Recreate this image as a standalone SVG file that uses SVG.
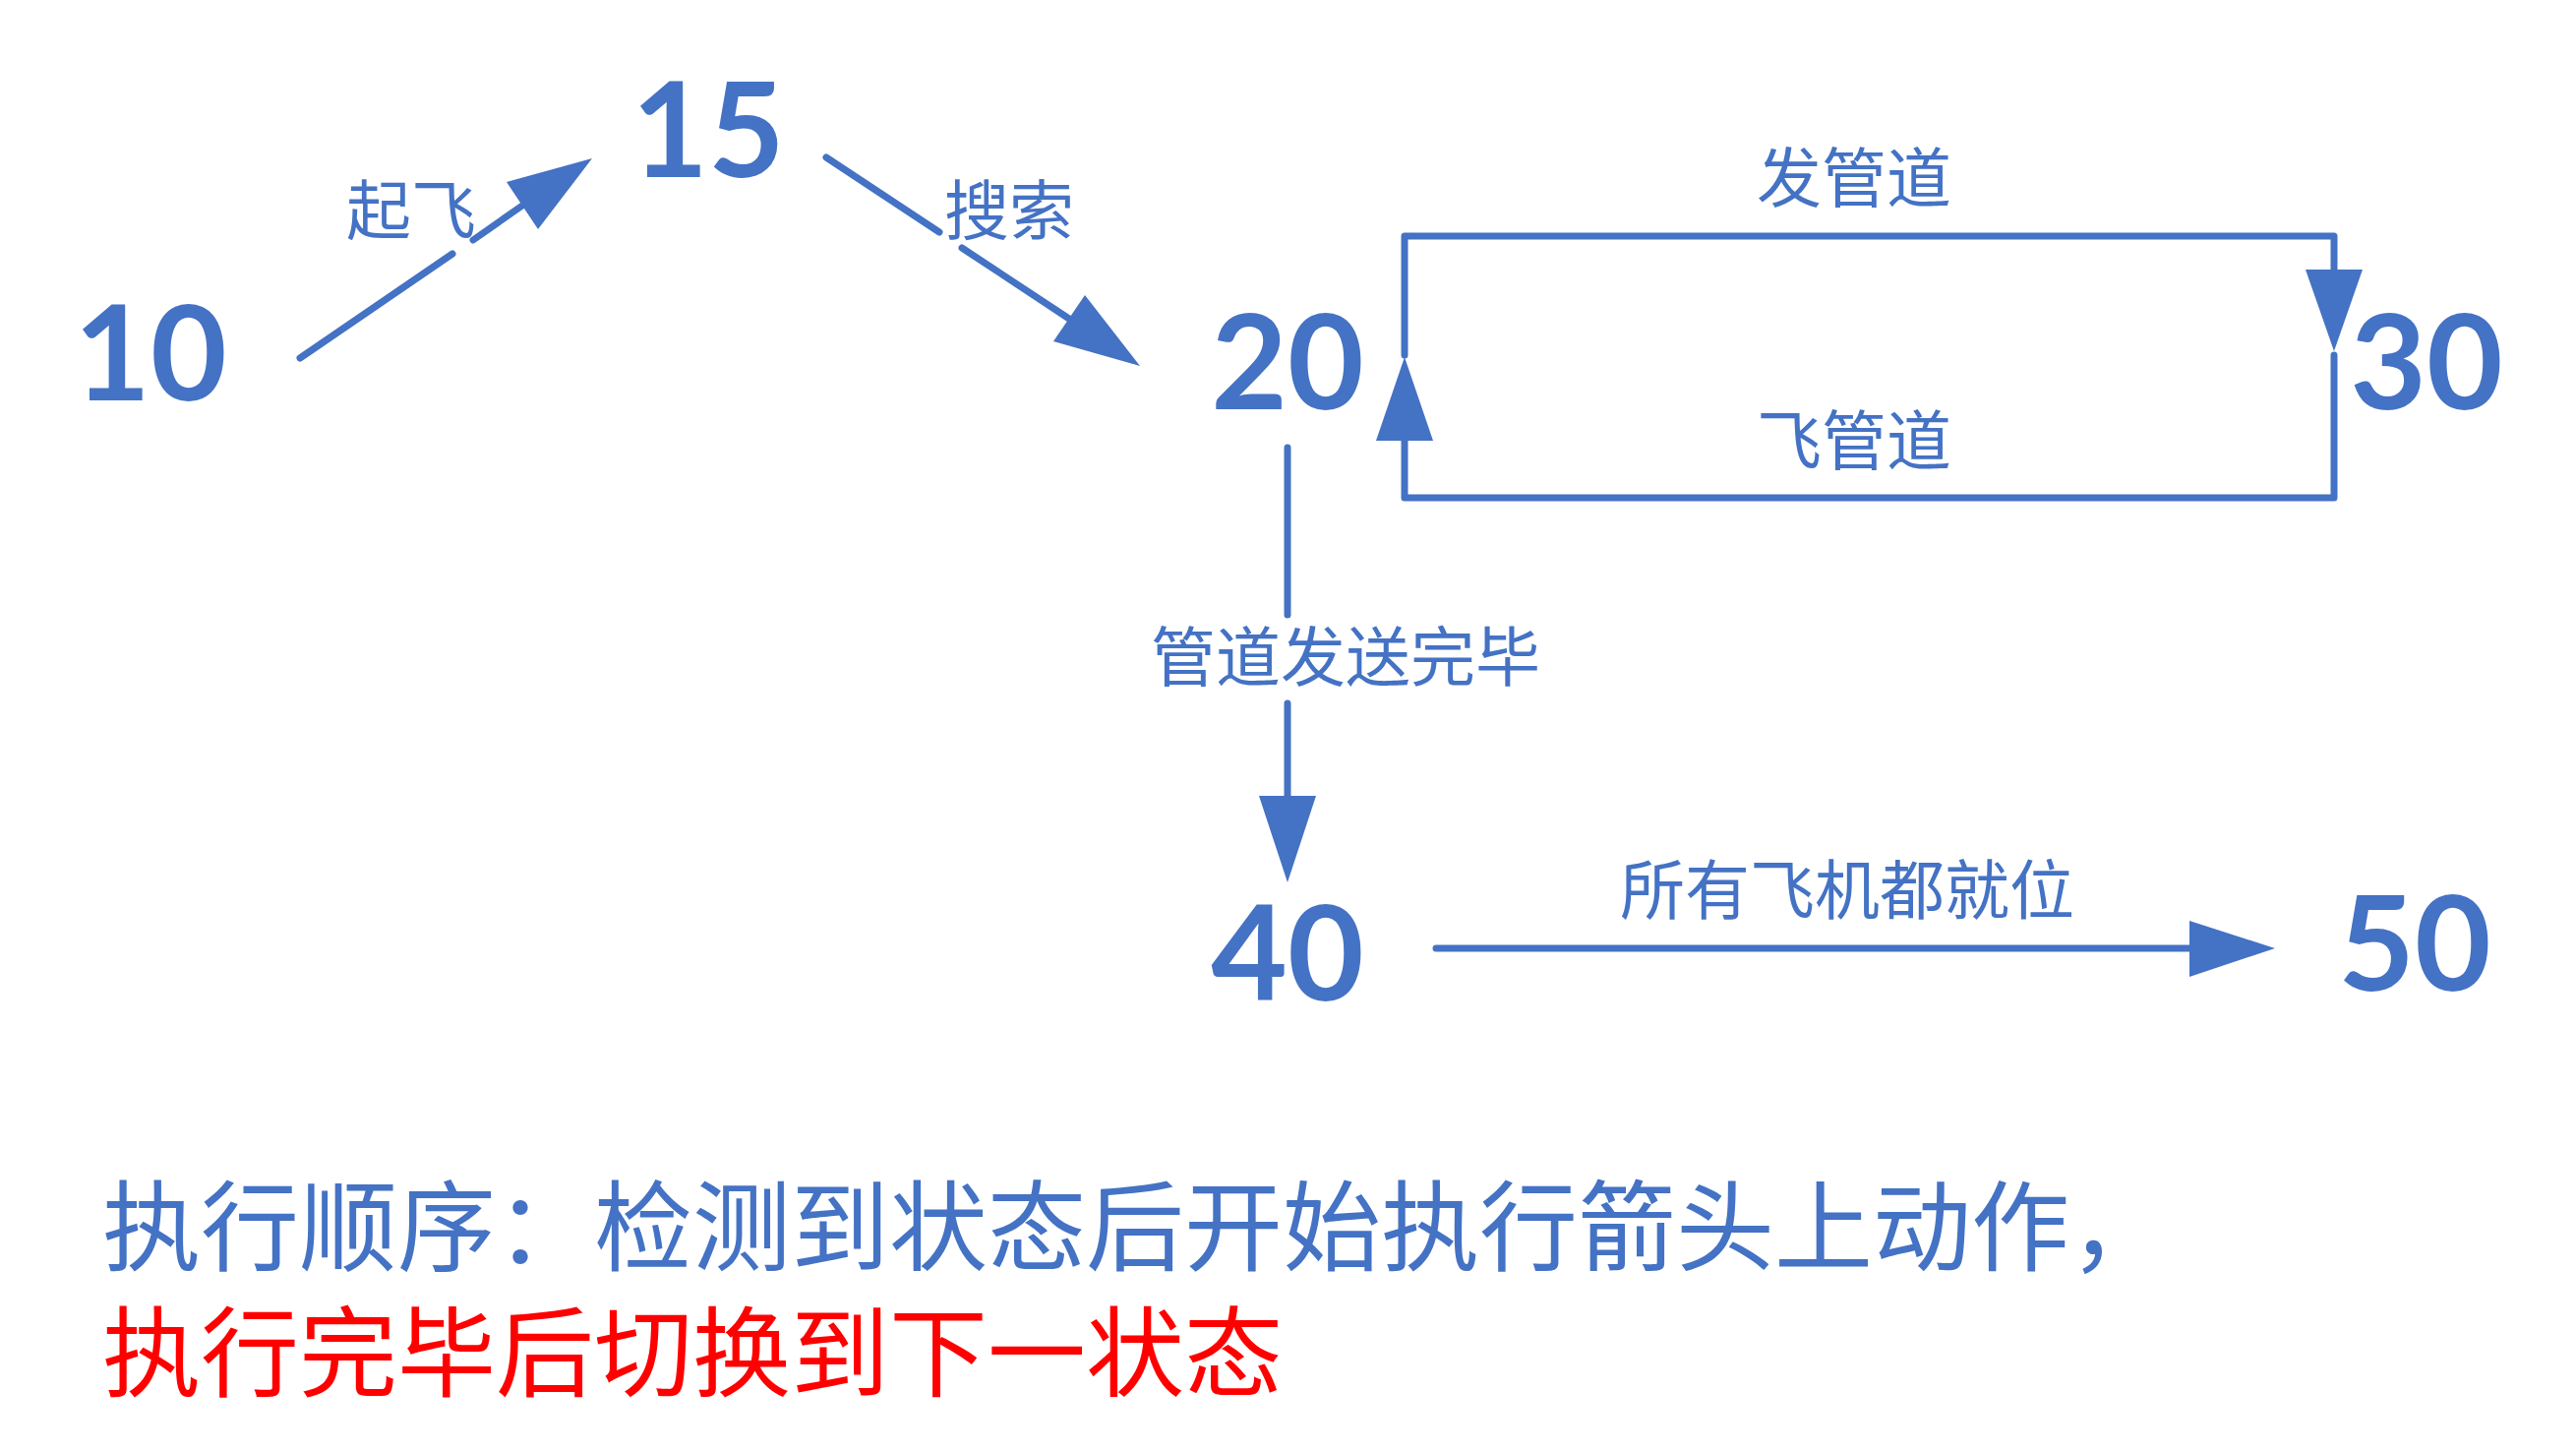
<svg xmlns="http://www.w3.org/2000/svg" width="2619" height="1475" viewBox="0 0 2619 1475">
<style>
.num{font-family:Lato,"Open Sans","Liberation Sans",sans-serif;font-weight:700;font-size:134px;fill:#4472C4;text-anchor:middle}
.lbl{font-family:"Noto Sans CJK SC","Noto Sans",sans-serif;font-size:66px;fill:#4472C4;text-anchor:middle}
.note{font-family:"Noto Sans CJK SC","Noto Sans",sans-serif;font-size:100px}
.ln{fill:none;stroke:#4472C4;stroke-width:7;stroke-linecap:round;stroke-linejoin:round}
.ah{fill:#4472C4;stroke:none}
</style>
<rect x="0" y="0" width="2619" height="1475" fill="#FFFFFF"/>
<g id="connectors">
  <!-- 10 -> 15 -->
  <path class="ln" d="M305,364 L460,258 M481,244 L531,209"/>
  <polygon class="ah" points="602,161 515,185 547,233"/>
  <!-- 15 -> 20 -->
  <path class="ln" d="M840,160 L955,236 M978,252 L1090,326"/>
  <polygon class="ah" points="1159,372 1071,347 1103,300"/>
  <!-- 20 -> 30 (发管道) -->
  <path class="ln" d="M1428,361 V240 H2373 V276"/>
  <polygon class="ah" points="2373,357 2344,274 2402,274"/>
  <!-- 30 -> 20 (飞管道) -->
  <path class="ln" d="M2373,361 V506 H1428 V446"/>
  <polygon class="ah" points="1428,363 1399,448 1457,448"/>
  <!-- 20 -> 40 -->
  <path class="ln" d="M1309,455 V625 M1309,715 V811"/>
  <polygon class="ah" points="1309,897 1280,809 1338,809"/>
  <!-- 40 -> 50 -->
  <path class="ln" d="M1460,964 H2228"/>
  <polygon class="ah" points="2313,964 2226,936 2226,993"/>
  <!-- labels -->
  <text class="lbl" x="418" y="238">起飞</text>
  <text class="lbl" x="1026" y="238">搜索</text>
  <text class="lbl" x="1885" y="205">发管道</text>
  <text class="lbl" x="1885" y="472">飞管道</text>
  <text class="lbl" x="1368" y="692">管道发送完毕</text>
  <text class="lbl" x="1878" y="929">所有飞机都就位</text>
</g>
<g id="node-10"><text class="num" x="153" y="407">10</text></g>
<g id="node-15"><text class="num" x="720" y="180">15</text></g>
<g id="node-20"><text class="num" x="1309" y="416">20</text></g>
<g id="node-30"><text class="num" x="2467" y="416">30</text></g>
<g id="node-40"><text class="num" x="1309" y="1017">40</text></g>
<g id="node-50"><text class="num" x="2455" y="1007">50</text></g>
<g id="note">
  <text class="note"><tspan x="104" y="1284" fill="#4472C4">执行顺序：检测到状态后开始执行箭头上动作，</tspan><tspan x="104" y="1412" fill="#FF0000">执行完毕后切换到下一状态</tspan></text>
</g>
</svg>
